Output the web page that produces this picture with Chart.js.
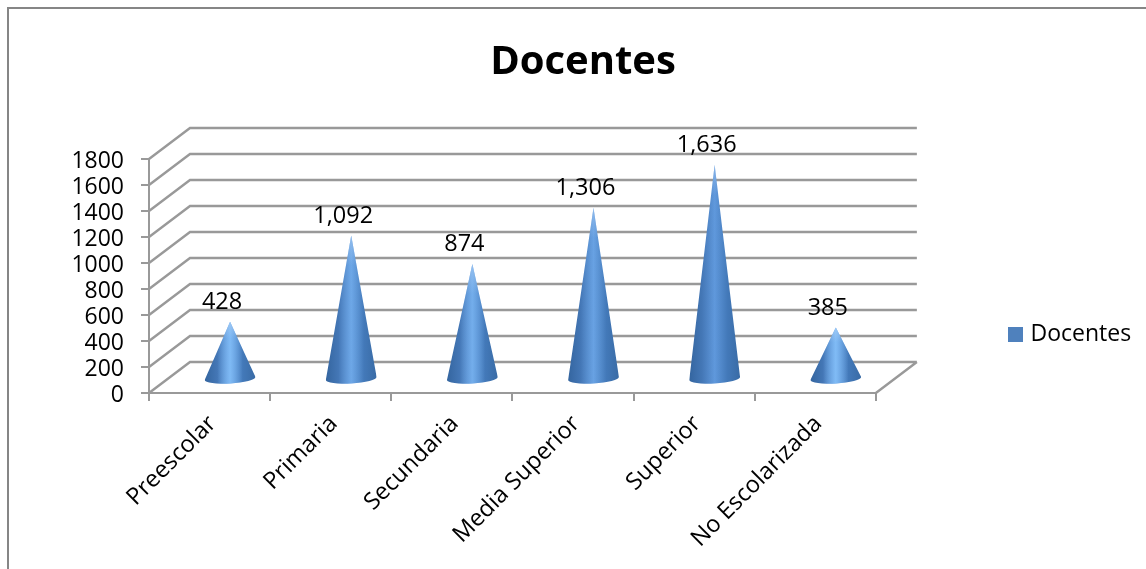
<!DOCTYPE html>
<html>
<head>
<meta charset="utf-8">
<title>Docentes</title>
<script src="https://cdn.jsdelivr.net/npm/chart.js@4/dist/chart.umd.min.js"></script>
<style>
html, body { margin: 0; padding: 0; background: #fff; overflow: hidden; }
#frame { position: absolute; left: 7px; top: 7px; width: 1300px; height: 800px; border: 2px solid #868686; box-sizing: border-box; }
#salesChart { position: absolute; left: 0; top: 0; }
</style>
</head>
<body>
<div id="frame"></div>
<canvas id="salesChart" width="1146" height="569"></canvas>
<script>
var categories = ['Preescolar', 'Primaria', 'Secundaria', 'Media Superior', 'Superior', 'No Escolarizada'];
var docentes = [428, 1092, 874, 1306, 1636, 385];
var yTicks = [0, 200, 400, 600, 800, 1000, 1200, 1400, 1600, 1800];
var seriesName = 'Docentes';

var font = 'Open Sans';
var gridColor = '#999999';
var depthX = 41, depthY = -31;   // how far the back wall sits behind the front plane

// the 3D look: back wall lines, side wall diagonals, floor edge
var wallsPlugin = {
    id: 'walls',
    beforeDatasetsDraw: function (chart) {
        var ctx = chart.ctx, y = chart.scales.y, area = chart.chartArea;
        ctx.save();
        ctx.strokeStyle = gridColor;
        ctx.lineWidth = 2.4;
        ctx.beginPath();
        yTicks.forEach(function (v) {
            var py = y.getPixelForValue(v);
            ctx.moveTo(area.left, py);
            ctx.lineTo(area.left + depthX, py + depthY);
            ctx.lineTo(area.right + depthX, py + depthY);
        });
        ctx.moveTo(area.right, area.bottom);
        ctx.lineTo(area.right + depthX, area.bottom + depthY);
        ctx.stroke();
        ctx.restore();
    }
};

// swap the bars for cones standing in the middle of the floor
var conePlugin = {
    id: 'cones',
    beforeDatasetDraw: function (chart, args) {
        var ctx = chart.ctx;
        args.meta.data.forEach(function (bar) {
            var cx = bar.x + depthX / 2;
            var top = bar.y + depthY / 2;
            var base = bar.base + depthY / 2;
            var r = bar.width / 2;
            var tilt = -0.06;
            var h = base - top;
            ctx.save();
            ctx.beginPath();
            ctx.moveTo(cx, top);
            ctx.lineTo(cx + r * Math.cos(tilt), base + 2 + r * Math.sin(tilt));
            ctx.ellipse(cx, base + 2, r, 5, tilt, 0, Math.PI);
            ctx.closePath();
            ctx.clip();

            var g = ctx.createLinearGradient(cx - r, 0, cx + r, 0);
            g.addColorStop(0, '#34659f');
            g.addColorStop(0.25, '#4477b6');
            g.addColorStop(0.5, '#5f98dc');
            g.addColorStop(0.75, '#4379b9');
            g.addColorStop(1, '#396ba5');
            ctx.fillStyle = g;
            ctx.fillRect(cx - r, top, r * 2, h + 9);

            // short cones catch more light down the middle
            var a = Math.max(0, 0.95 * (1 - h / 213));
            var shine = ctx.createLinearGradient(cx - r * 0.5, 0, cx + r * 0.5, 0);
            shine.addColorStop(0, 'rgba(140,200,255,0)');
            shine.addColorStop(0.5, 'rgba(140,200,255,' + a + ')');
            shine.addColorStop(1, 'rgba(140,200,255,0)');
            ctx.fillStyle = shine;
            ctx.fillRect(cx - r, top, r * 2, h + 9);

            var fade = ctx.createLinearGradient(0, top, 0, top + Math.min(h * 0.3, 30));
            fade.addColorStop(0, 'rgba(190,215,245,0.45)');
            fade.addColorStop(1, 'rgba(190,215,245,0)');
            ctx.fillStyle = fade;
            ctx.fillRect(cx - r, top, r * 2, h);
            ctx.restore();
        });
        return false;
    },
    afterDatasetsDraw: function (chart) {
        var ctx = chart.ctx;
        ctx.save();
        ctx.font = '23.5px "' + font + '"';
        ctx.fillStyle = '#000';
        ctx.textAlign = 'center';
        ctx.textBaseline = 'middle';
        chart.getDatasetMeta(0).data.forEach(function (bar, i) {
            ctx.fillText(docentes[i].toLocaleString('en-US'), bar.x + depthX / 2 - 8, bar.y + depthY / 2 - 19.5);
        });
        ctx.restore();
    }
};

// title centres on the outer frame, the legend sits away from the plot,
// and the axis labels get nudged to where the reference has them
var placePlugin = {
    id: 'place',
    afterLayout: function (chart) {
        chart.titleBlock.left = 20;
        chart.titleBlock.right = 1146;
        var h = chart.legend.height;
        chart.legend.left = 1008;
        chart.legend.right = 1146;
        chart.legend.top = 334.5 - h / 2;
        chart.legend.bottom = 334.5 + h / 2;
        chart.scales.y.getLabelItems().forEach(function (item) { item.options.translation[1] += 2; });
        chart.scales.x.getLabelItems().forEach(function (item) { item.options.translation[0] += 3; });
    }
};

var ctx = document.getElementById('salesChart').getContext('2d');
var chart = new Chart(ctx, {
    type: 'bar',
    data: {
        labels: categories,
        datasets: [{
            label: seriesName,
            data: docentes,
            backgroundColor: '#4f81bd',
            borderColor: '#4f81bd',
            borderWidth: 8,
            categoryPercentage: 1,
            barPercentage: 0.42
        }]
    },
    plugins: [wallsPlugin, conePlugin, placePlugin],
    options: {
        responsive: false,
        animation: false,
        layout: { padding: { left: 0, right: 137, top: 0, bottom: 0 } },
        scales: {
            x: {
                border: { color: gridColor, width: 2 },
                grid: { drawOnChartArea: false, color: gridColor, lineWidth: 2, tickLength: 8 },
                ticks: {
                    color: '#000',
                    font: { family: font, size: 23.5 },
                    minRotation: 45,
                    maxRotation: 45,
                    autoSkip: false,
                    padding: 9
                },
                afterFit: function (scale) { scale.height = 176; }
            },
            y: {
                min: 0,
                max: 1800,
                border: { color: gridColor, width: 2 },
                grid: { drawOnChartArea: false, color: gridColor, lineWidth: 2, tickLength: 8 },
                afterBuildTicks: function (scale) {
                    scale.ticks = yTicks.map(function (v) { return { value: v }; });
                },
                ticks: {
                    color: '#000',
                    font: { family: font, size: 23 },
                    padding: 17,
                    autoSkip: false,
                    callback: function (value) { return String(value); }
                },
                afterFit: function (scale) { scale.width = 149; }
            }
        },
        plugins: {
            title: {
                display: true,
                text: seriesName,
                color: '#000',
                font: { family: font, size: 40, weight: 'bold' },
                padding: { top: 39, bottom: 72 }
            },
            legend: {
                display: true,
                position: 'right',
                labels: {
                    color: '#000',
                    font: { family: font, size: 23 },
                    boxWidth: 7,
                    boxHeight: 7,
                    padding: 4
                }
            },
            tooltip: { enabled: false }
        }
    }
});
</script>
</body>
</html>
